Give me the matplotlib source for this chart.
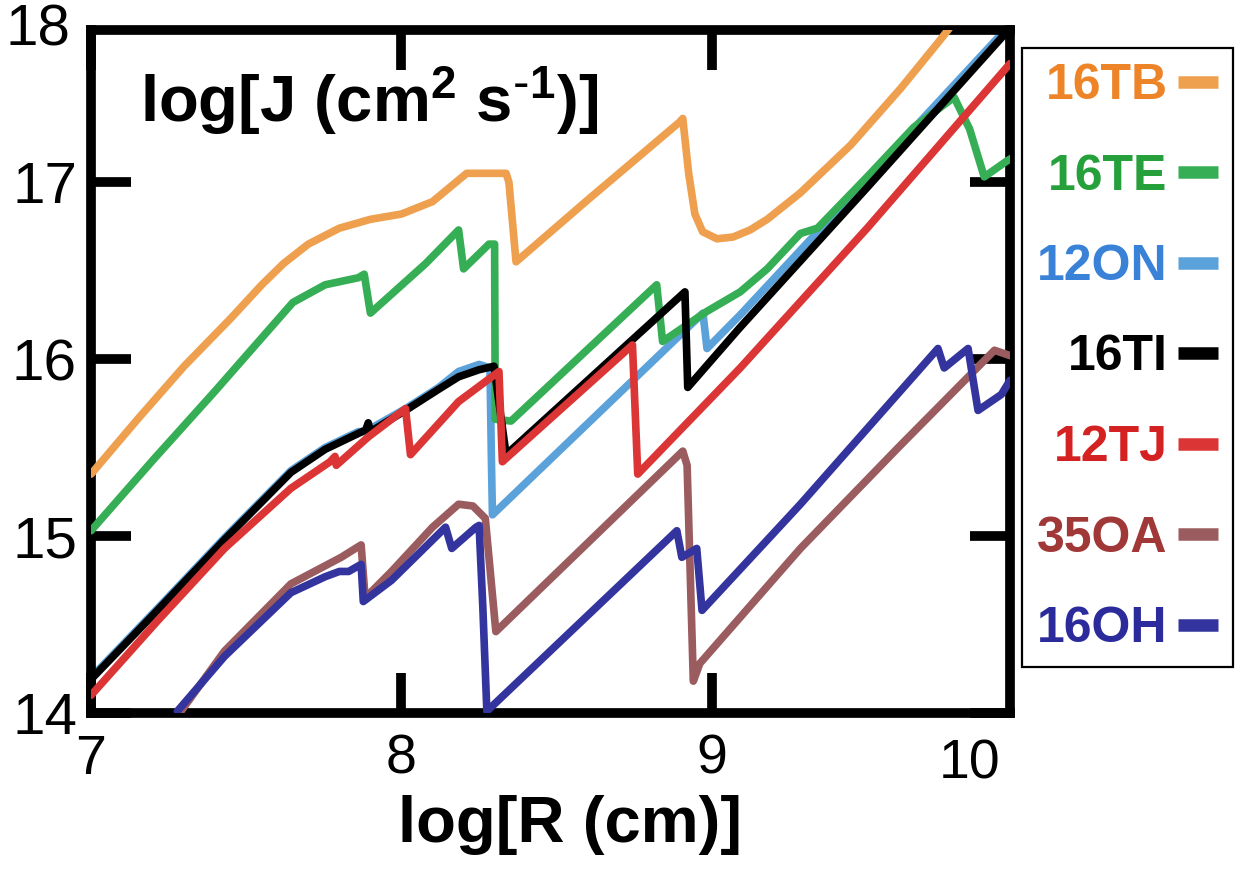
import matplotlib
matplotlib.use("Agg")
import matplotlib.pyplot as plt
from matplotlib.lines import Line2D

plt.rcParams['font.family'] = ['Liberation Sans', 'DejaVu Sans']
plt.rcParams['mathtext.default'] = 'regular'

# ---------------- data ----------------
series_names = ["16TB", "16TE", "12ON", "16TI", "12TJ", "35OA", "16OH"]

tb_x = [7.00, 7.15, 7.30, 7.45, 7.55, 7.62, 7.70, 7.80, 7.90, 8.00, 8.10, 8.21, 8.24, 8.31, 8.337, 8.346, 8.369,
        8.60, 8.896, 8.906, 8.925, 8.945, 8.97, 9.016, 9.068, 9.123, 9.178, 9.285, 9.447, 9.608, 9.738, 9.80]
tb_y = [15.35, 15.66, 15.96, 16.23, 16.42, 16.54, 16.65, 16.74, 16.79, 16.82, 16.89, 17.05, 17.05, 17.05, 17.05, 17.00, 16.55,
        16.90, 17.34, 17.36, 17.05, 16.82, 16.72, 16.68, 16.69, 16.73, 16.79, 16.94, 17.21, 17.53, 17.81, 17.95]

te_x = [7.00, 7.20, 7.40, 7.55, 7.65, 7.754, 7.861, 7.88, 7.90, 7.97, 8.078, 8.184, 8.20, 8.282, 8.30, 8.302,
        8.353, 8.822, 8.841, 8.984, 9.091, 9.178, 9.285, 9.34, 9.50, 9.65, 9.78, 9.83, 9.877, 9.95, 9.97]
te_y = [15.03, 15.43, 15.82, 16.12, 16.32, 16.42, 16.46, 16.48, 16.26, 16.37, 16.54, 16.73, 16.51, 16.65, 16.65, 15.66,
        15.65, 16.42, 16.10, 16.27, 16.38, 16.51, 16.71, 16.74, 17.03, 17.31, 17.48, 17.30, 17.03, 17.12, 17.14]

on_x = [7.00, 7.214, 7.43, 7.644, 7.754, 7.861, 7.883, 8.013, 8.12, 8.184, 8.25, 8.285, 8.29, 8.293,
        8.971, 8.984, 9.091, 9.50, 9.96]
on_y = [14.20, 14.59, 14.99, 15.37, 15.50, 15.59, 15.59, 15.72, 15.84, 15.93, 15.97, 15.95, 15.40, 15.12,
        16.26, 16.06, 16.25, 17.02, 17.89]

ti_x = [7.00, 7.214, 7.43, 7.644, 7.754, 7.861, 7.885, 7.893, 7.90, 8.013, 8.12, 8.184, 8.25, 8.298,
        8.337, 8.913, 8.922, 9.091, 9.50, 9.96]
ti_y = [14.19, 14.58, 14.98, 15.36, 15.49, 15.58, 15.60, 15.64, 15.59, 15.71, 15.83, 15.90, 15.94, 15.96,
        15.46, 16.38, 15.84, 16.18, 16.97, 17.87]

tj_x = [7.00, 7.214, 7.43, 7.644, 7.77, 7.786, 7.79, 7.893, 8.013, 8.029, 8.184, 8.314, 8.325,
        8.744, 8.761, 9.091, 9.50, 9.96]
tj_y = [14.10, 14.52, 14.93, 15.27, 15.42, 15.45, 15.40, 15.56, 15.72, 15.46, 15.76, 15.93, 15.42,
        16.08, 15.35, 15.95, 16.74, 17.67]

oa_x = [7.29, 7.43, 7.644, 7.806, 7.87, 7.883, 7.968, 8.10, 8.184, 8.23, 8.27, 8.304,
        8.906, 8.92, 8.94, 8.961, 9.285, 9.60, 9.91, 9.96]
oa_y = [14.01, 14.35, 14.73, 14.88, 14.95, 14.65, 14.80, 15.05, 15.18, 15.17, 15.10, 14.46,
        15.48, 15.40, 14.18, 14.28, 14.93, 15.50, 16.05, 16.02]

oh_x = [7.278, 7.43, 7.644, 7.754, 7.80, 7.83, 7.87, 7.877, 7.968, 8.142, 8.162, 8.24, 8.25, 8.262, 8.275,
        8.887, 8.903, 8.951, 8.968, 9.285, 9.728, 9.748, 9.825, 9.857, 9.932, 9.96]
oh_y = [14.01, 14.32, 14.68, 14.77, 14.80, 14.80, 14.84, 14.63, 14.75, 15.05, 14.93, 15.05, 15.06, 14.60, 14.01,
        15.03, 14.88, 14.93, 14.58, 15.18, 16.06, 15.95, 16.06, 15.71, 15.80, 15.88]

line_colors = ["#EFA04F", "#36AE55", "#5BA2DA", "#000000", "#DC3535", "#9A5C5E", "#34349E"]
text_colors = ["#EE8428", "#25A03A", "#3A82D8", "#000000", "#D42222", "#A03838", "#2B2B9C"]

xlim = (7.0, 9.96)
ylim = (14.0, 17.86)
xticks = [7, 8, 9]
yticks = [14, 15, 16, 17]

# ---------------- figure ----------------
fig = plt.figure(figsize=(12.36, 8.69), dpi=100)
ax = fig.add_axes([91/1236, 1-713/869, (1010-91)/1236, (713-30)/869])

xs = [tb_x, te_x, on_x, ti_x, tj_x, oa_x, oh_x]
ys = [tb_y, te_y, on_y, ti_y, tj_y, oa_y, oh_y]
order = [2, 1, 3, 4, 5, 6, 0]
for i in order:
    ax.plot(xs[i], ys[i], color=line_colors[i], lw=5.5, solid_joinstyle='round',
            solid_capstyle='round', zorder=2 + order.index(i))

ax.set_xlim(*xlim)
ax.set_ylim(*ylim)
ax.set_xticks(xticks)
ax.set_yticks(yticks)
ax.set_xticklabels([str(t) for t in xticks], fontsize=40)
ax.set_yticklabels([str(t) for t in yticks], fontsize=42)
ax.tick_params(axis='both', which='major', direction='in', length=29, width=7,
               top=True, right=True, color='black')
ax.tick_params(axis='x', pad=15)
ax.tick_params(axis='y', pad=10)
for s in ax.spines.values():
    s.set_linewidth(7)

# edge labels "10" and "18"
ax.text(9.83, -0.037, "10", transform=ax.get_xaxis_transform(), ha='center', va='top',
        fontsize=40)
ax.text(-0.022, 1.0, "18", transform=ax.transAxes, ha='right', va='center', fontsize=42)

# inner y-axis title
ax.text(0.053, 0.865, r"log[J (cm$^{2}$ s$^{\text{-}1}$)]", transform=ax.transAxes,
        fontsize=47, fontweight='bold', ha='left', va='baseline')

# x-axis title
fig.text(570/1236, 1-842/869, "log[R (cm)]", fontsize=47, fontweight='bold',
         ha='center', va='baseline')

# legend
handles = [Line2D([0], [0], color=c, lw=9, solid_capstyle='butt') for c in line_colors]
leg = ax.legend(handles, series_names, loc='upper left',
                bbox_to_anchor=(1022/1236, 1-48/869), bbox_transform=fig.transFigure,
                markerfirst=False, handlelength=0.8, handletextpad=0.2,
                labelspacing=0.89, borderpad=0.3, borderaxespad=0,
                fancybox=False, framealpha=1, edgecolor='black',
                prop={'family': 'Liberation Sans', 'weight': 'bold', 'size': 36},
                labelcolor=text_colors)
leg.get_frame().set_linewidth(1.6)

fig.savefig("out.png", dpi=100)
